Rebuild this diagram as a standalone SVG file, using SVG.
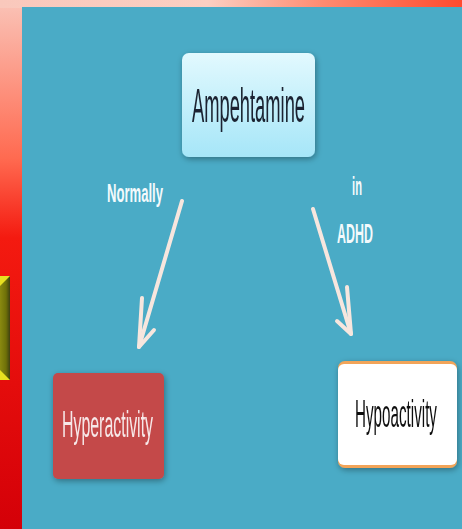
<svg xmlns="http://www.w3.org/2000/svg" width="462" height="529" viewBox="0 0 462 529">
<defs>
<linearGradient id="topbg" x1="0" y1="0" x2="1" y2="0">
<stop offset="0" stop-color="#F9C8BC"/>
<stop offset="0.45" stop-color="#FBCFC2"/>
<stop offset="0.7" stop-color="#FF8A70"/>
<stop offset="1" stop-color="#FF4A2E"/>
</linearGradient>
<linearGradient id="leftbg" x1="0" y1="0" x2="0" y2="1">
<stop offset="0" stop-color="#FAC4B8"/>
<stop offset="0.3" stop-color="#FF6A50"/>
<stop offset="0.45" stop-color="#F41A10"/>
<stop offset="1" stop-color="#D40008"/>
</linearGradient>
<linearGradient id="ampfill" x1="0" y1="0" x2="0" y2="1">
<stop offset="0" stop-color="#E2F9FE"/>
<stop offset="1" stop-color="#A6E6F8"/>
</linearGradient>
<linearGradient id="olive" x1="0" y1="0" x2="1" y2="0">
<stop offset="0" stop-color="#8A8A10"/>
<stop offset="0.6" stop-color="#6E7008"/>
<stop offset="1" stop-color="#404010"/>
</linearGradient>
<filter id="sh" x="-20%" y="-20%" width="140%" height="140%">
<feGaussianBlur in="SourceAlpha" stdDeviation="3"/>
<feOffset dx="1" dy="2"/>
<feComponentTransfer><feFuncA type="linear" slope="0.35"/></feComponentTransfer>
<feMerge><feMergeNode/><feMergeNode in="SourceGraphic"/></feMerge>
</filter>
<style>
.lbl{font-family:"Liberation Sans","DejaVu Sans",sans-serif;text-anchor:middle;}
.edge{font-family:"Liberation Sans","DejaVu Sans",sans-serif;font-weight:bold;fill:#F4FAFC;text-anchor:middle;}
.arrow{stroke:#F7E6DE;stroke-width:4;fill:none;stroke-linecap:round;stroke-linejoin:round;}
</style>
</defs>
<rect x="0" y="0" width="462" height="529" fill="url(#leftbg)"/>
<rect x="0" y="0" width="462" height="8" fill="url(#topbg)"/>
<rect x="0" y="276" width="10" height="104" fill="url(#olive)"/>
<polygon points="0,276 10,276 0,286" fill="#E8E020"/>
<polygon points="0,380 10,380 0,370" fill="#E8E020"/>
<rect x="22" y="7" width="440" height="522" fill="#4AABC6"/>

<g id="connectors">
<g id="edge-normally">
<line class="arrow" x1="182" y1="201" x2="139" y2="347"/>
<polyline class="arrow" points="142,298 139,347 154,330"/>
</g>
<g id="edge-adhd">
<line class="arrow" x1="313" y1="209" x2="351" y2="334"/>
<polyline class="arrow" points="347,287 351,334 337,321"/>
</g>
<text class="edge" transform="translate(135,202) scale(0.504,1)" font-size="26">Normally</text>
<text class="edge" transform="translate(357,195) scale(0.43,1)" font-size="26">in</text>
<text class="edge" transform="translate(355,243) scale(0.46,1)" font-size="27">ADHD</text>
</g>

<g id="node-amphetamine" filter="url(#sh)">
<rect x="182" y="53" width="133" height="104" rx="7" fill="url(#ampfill)"/>
<text class="lbl" transform="translate(248.5,122) scale(0.382,1)" font-size="48" fill="#1A2430">Ampehtamine</text>
</g>

<g id="node-hyperactivity" filter="url(#sh)">
<rect x="53" y="373" width="111" height="106" rx="5" fill="#C4484A"/>
<text class="lbl" transform="translate(107.5,437) scale(0.43,1)" font-size="37" fill="#F7E8E8">Hyperactivity</text>
</g>

<g id="node-hypoactivity" filter="url(#sh)">
<rect x="338" y="361" width="119" height="107" rx="7" fill="#F2A458"/>
<rect x="338" y="364" width="119" height="101" rx="6" fill="#FFFFFF"/>
<text class="lbl" transform="translate(396,427) scale(0.40,1)" font-size="38" fill="#111111">Hypoactivity</text>
</g>
</svg>
